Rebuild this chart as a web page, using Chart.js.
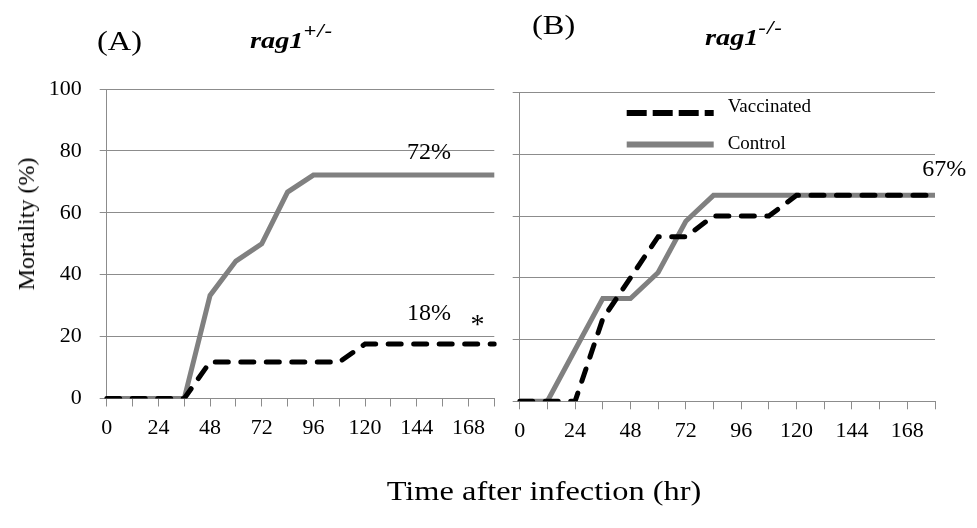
<!DOCTYPE html>
<html>
<head>
<meta charset="utf-8">
<script src="https://cdn.jsdelivr.net/npm/chart.js@4"></script>
<style>
  body { margin: 0; background: #fff; width: 977px; height: 528px; position: relative; overflow: hidden;
         font-family: "Liberation Serif", "Times New Roman", serif; color: #000; }
  canvas { position: absolute; top: 0; }
  .t { position: absolute; white-space: nowrap; line-height: 1; }
  .sup { font-size: 19px; position: relative; top: -11px; letter-spacing: 1px; }
</style>
</head>
<body>
<canvas id="chartA" width="505" height="528" style="left:0"></canvas>
<canvas id="chartB" width="472" height="528" style="left:505px"></canvas>

<!-- titres des painéis -->
<div class="t" style="left:97px;top:28px;font-size:27px;transform:scaleX(1.2);transform-origin:left top">(A)</div>
<div class="t" style="left:250px;top:28px;font-size:24px;font-weight:bold;font-style:italic;transform:scaleX(1.18);transform-origin:left top">rag1<span class="sup">+/-</span></div>
<div class="t" style="left:532px;top:12px;font-size:27px;transform:scaleX(1.2);transform-origin:left top">(B)</div>
<div class="t" style="left:705px;top:25px;font-size:24px;font-weight:bold;font-style:italic;transform:scaleX(1.18);transform-origin:left top">rag1<span class="sup">-/-</span></div>

<!-- títulos dos eixos -->
<div class="t" style="left:26px;top:224px;font-size:24px;transform:translate(-50%,-50%) rotate(-90deg)">Mortality (%)</div>
<div class="t" style="left:544px;top:491px;font-size:27px;transform:translate(-50%,-50%) scaleX(1.2)">Time after infection (hr)</div>

<script>
// ## DADOS ##
const hours = [0, 12, 24, 36, 48, 60, 72, 84, 96, 108, 120, 132, 144, 156, 168, 180];

// (A) rag1+/-
const vaccinatedA = [0, 0, 0, 0, 11.8, 11.8, 11.8, 11.8, 11.8, 11.8, 17.6, 17.6, 17.6, 17.6, 17.6, 17.6];
const controlA    = [0, 0, 0, 0, 33.3, 44.4, 50, 66.7, 72.2, 72.2, 72.2, 72.2, 72.2, 72.2, 72.2, 72.2];

// (B) rag1-/-
const vaccinatedB = [0, 0, 0, 26.7, 40, 53.3, 53.3, 60, 60, 60, 66.7, 66.7, 66.7, 66.7, 66.7, 66.7];
const controlB    = [0, 0, 16.7, 33.3, 33.3, 41.7, 58.3, 66.7, 66.7, 66.7, 66.7, 66.7, 66.7, 66.7, 66.7, 66.7];

const yTicks = [0, 20, 40, 60, 80, 100];
const seriesNames = ['Vaccinated', 'Control'];

// rótulos sobre as curvas (em horas / %)
const notesA = [
  { text: '72%', hour: 149.7, value: 79.4, size: 24 },
  { text: '18%', hour: 149.7, value: 27.3, size: 24 },
  { text: '*',   hour: 172.2, value: 23.5, size: 28 }
];
const notesB = [
  { text: '67%', hour: 184, value: 74.9, size: 24 }
];

// ## ESTILO ##
const GRID = '#8c8c8c';
const FONT = '"Liberation Serif", "Times New Roman", serif';

function makeDatasets(vacc, ctrl) {
  // vacinado primeiro para ficar por cima
  return [
    {
      label: seriesNames[0],
      data: vacc,
      borderColor: '#000',
      borderWidth: 5,
      borderDash: [13, 12.5],
      borderCapStyle: 'round',
      pointRadius: 0,
      tension: 0,
      fill: false
    },
    {
      label: seriesNames[1],
      data: ctrl,
      borderColor: '#808080',
      borderWidth: 5,
      pointRadius: 0,
      tension: 0,
      fill: false
    }
  ];
}

// plugin simples: textos dentro do gráfico e legenda opcional
const notesPlugin = {
  id: 'notes',
  afterDatasetsDraw(chart, args, opts) {
    const ctx = chart.ctx;
    const xs = chart.scales.x, ys = chart.scales.y;
    ctx.save();
    ctx.fillStyle = '#000';
    ctx.textAlign = 'center';
    ctx.textBaseline = 'middle';
    (opts.notes || []).forEach(n => {
      ctx.font = n.size + 'px ' + FONT;
      ctx.fillText(n.text, xs.getPixelForValue(n.hour / 12), ys.getPixelForValue(n.value));
    });
    if (opts.legend) {
      const a = chart.chartArea;
      const L = opts.legend;
      chart.data.datasets.forEach((ds, i) => {
        const y = a.top + L.top + i * L.gap;
        ctx.beginPath();
        ctx.strokeStyle = ds.borderColor;
        ctx.lineWidth = 6;
        ctx.lineCap = 'butt';
        ctx.setLineDash(ds.borderDash ? [20, 6] : []);
        ctx.moveTo(a.left + L.left, y);
        ctx.lineTo(a.left + L.left + L.width, y);
        ctx.stroke();
        ctx.setLineDash([]);
        ctx.font = '19px ' + FONT;
        ctx.textAlign = 'left';
        ctx.fillText(ds.label, a.left + L.textLeft, y - (i === 0 ? 6 : 0));
      });
    }
    ctx.restore();
  }
};

function makeChart(id, vacc, ctrl, cfg) {
  return new Chart(document.getElementById(id), {
    type: 'line',
    data: { labels: hours, datasets: makeDatasets(vacc, ctrl) },
    options: {
      responsive: false,
      animation: false,
      devicePixelRatio: 1,
      layout: { padding: cfg.padding },
      plugins: {
        legend: { display: false },
        tooltip: { enabled: false },
        notes: { notes: cfg.notes, legend: cfg.legend }
      },
      scales: {
        x: {
          type: 'category',
          offset: false,
          grid: { drawOnChartArea: false, drawTicks: true, tickLength: 8, color: GRID },
          border: { color: GRID, width: 1 },
          ticks: {
            autoSkip: false,
            maxRotation: 0,
            padding: 9,
            color: '#000',
            font: { family: FONT, size: 22 },
            callback: (v, i) => (i % 2 === 0 ? hours[i] : '')
          },
          afterFit: s => { s.height = 40; }
        },
        y: {
          min: 0,
          max: 100,
          afterBuildTicks: s => { s.ticks = yTicks.map(v => ({ value: v })); },
          grid: { color: GRID, tickLength: 7, lineWidth: 1 },
          border: { color: GRID, width: 1 },
          ticks: {
            padding: 18,
            color: '#000',
            font: { family: FONT, size: 22 },
            callback: v => (cfg.yLabels ? v : '')
          },
          afterFit: s => { s.width = cfg.yWidth; }
        }
      }
    },
    plugins: [notesPlugin]
  });
}

makeChart('chartA', vaccinatedA, controlA, {
  padding: { left: 0, top: 89, right: 10.7, bottom: 89.5 },
  yWidth: 106.7,
  yLabels: true,
  notes: notesA
});

makeChart('chartB', vaccinatedB, controlB, {
  padding: { left: 0, top: 92.5, right: 42, bottom: 86.7 },
  yWidth: 14.7,
  yLabels: false,
  notes: notesB,
  legend: { left: 107, width: 87, top: 20.5, gap: 31.5, textLeft: 208 }
});
</script>
</body>
</html>
